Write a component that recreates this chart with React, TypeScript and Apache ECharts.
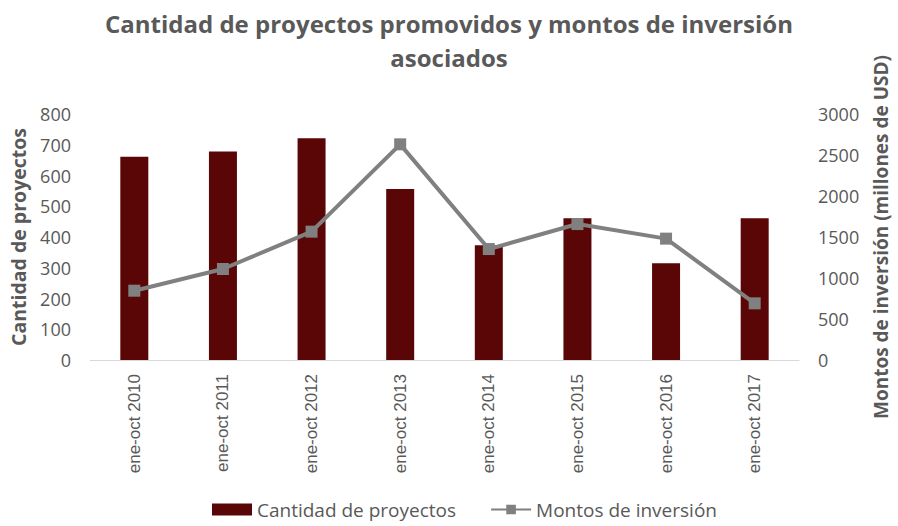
import React, { useEffect, useRef } from "react";
import * as echarts from "echarts";

const categories = [
  "ene-oct 2010",
  "ene-oct 2011",
  "ene-oct 2012",
  "ene-oct 2013",
  "ene-oct 2014",
  "ene-oct 2015",
  "ene-oct 2016",
  "ene-oct 2017",
];
const proyectos = [661, 678, 721, 556, 373, 461, 315, 461];
const inversion = [845, 1110, 1565, 2630, 1353, 1658, 1480, 691];

const FONT = "'Open Sans', sans-serif";
const GRAY = "#595959";

export default function App() {
  const ref = useRef<HTMLDivElement>(null);
  useEffect(() => {
    document.body.style.margin = "0";
    if (!ref.current) return;
    const chart = echarts.init(ref.current, null, { renderer: "svg" });
    chart.setOption({
      animation: false,
      backgroundColor: "#ffffff",
      title: {
        text: "Cantidad de proyectos promovidos y montos de inversión\nasociados",
        left: "center",
        top: 1,
        textStyle: {
          fontFamily: FONT,
          fontWeight: "bold",
          fontSize: 24,
          color: GRAY,
          lineHeight: 34,
        },
      },
      grid: { left: 90, right: 95, top: 114, bottom: 166 },
      legend: {
        bottom: 2,
        left: 207,
        itemWidth: 40,
        itemHeight: 12,
        itemGap: 34,
        textStyle: { fontFamily: FONT, fontSize: 19, color: GRAY },
        data: [
          { name: "Cantidad de proyectos", icon: "rect" },
          { name: "Montos de inversión" },
        ],
      },
      xAxis: {
        type: "category",
        data: categories,
        axisLine: { lineStyle: { color: "#d9d9d9", width: 1 } },
        axisTick: { show: false },
        axisLabel: {
          rotate: 90,
          interval: 0,
          margin: 14,
          fontFamily: "'Liberation Sans', Arial, sans-serif",
          fontSize: 17,
          color: GRAY,
        },
      },
      yAxis: [
        {
          type: "value",
          min: 0,
          max: 800,
          interval: 100,
          name: "Cantidad de proyectos",
          nameLocation: "middle",
          nameGap: 62,
          nameTextStyle: {
            fontFamily: FONT,
            fontWeight: "bold",
            fontSize: 19.5,
            color: GRAY,
          },
          axisLine: { show: false },
          axisTick: { show: false },
          splitLine: { show: false },
          axisLabel: {
            fontFamily: FONT,
            fontSize: 18,
            color: GRAY,
            margin: 19,
          },
        },
        {
          type: "value",
          min: 0,
          max: 3000,
          interval: 500,
          name: "Montos de inversión (millones de USD)",
          nameLocation: "middle",
          nameGap: 72,
          nameRotate: 90,
          nameTextStyle: {
            fontFamily: FONT,
            fontWeight: "bold",
            fontSize: 19,
            color: GRAY,
          },
          axisLine: { show: false },
          axisTick: { show: false },
          splitLine: { show: false },
          axisLabel: {
            fontFamily: FONT,
            fontSize: 18,
            color: GRAY,
            margin: 19,
            formatter: (v: number) => String(v),
          },
        },
      ],
      series: [
        {
          name: "Cantidad de proyectos",
          type: "bar",
          data: proyectos,
          barWidth: 28,
          itemStyle: { color: "#5b0606" },
          yAxisIndex: 0,
        },
        {
          name: "Montos de inversión",
          type: "line",
          data: inversion,
          yAxisIndex: 1,
          symbol: "rect",
          symbolSize: 12,
          lineStyle: { color: "#808080", width: 4 },
          itemStyle: { color: "#808080" },
        },
      ],
    });
    return () => chart.dispose();
  }, []);
  return <div ref={ref} style={{ width: 898, height: 526 }} />;
}
